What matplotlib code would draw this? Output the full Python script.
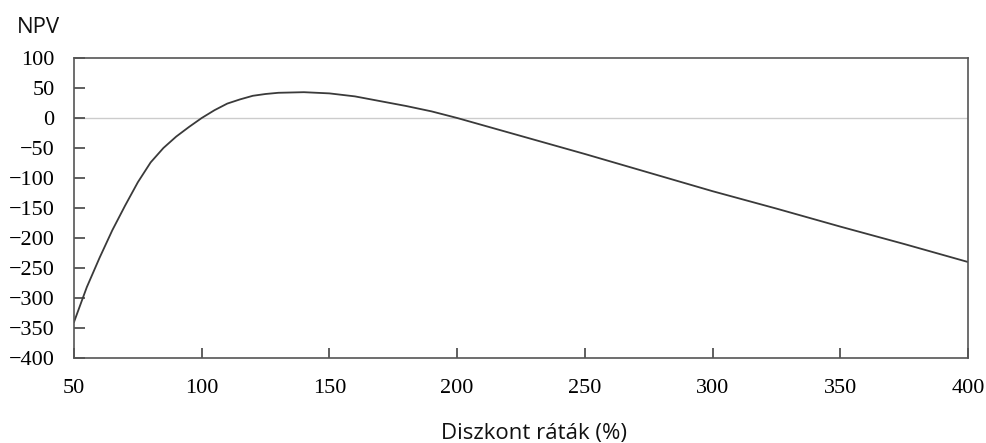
#!/usr/bin/env python3
# -*- coding: utf-8 -*-
import numpy as np
import matplotlib.pyplot as plt

# discount rate (%) and the net present value at that rate
rates = [50, 55, 60, 65, 70, 75, 80, 85, 90, 95, 100, 105, 110, 115, 120,
         125, 130, 140, 150, 160, 170, 180, 190, 200, 225, 250, 275, 300,
         325, 350, 375, 400]
npv = [-340, -282, -233, -187, -146, -107, -74, -50, -31, -15, 0, 13, 24,
       31, 37, 40, 42, 43, 41, 36, 28, 20, 11, 0, -30, -60, -91, -122,
       -151, -181, -210, -240]

xticks = [50, 100, 150, 200, 250, 300, 350, 400]
yticks = [100, 50, 0, -50, -100, -150, -200, -250, -300, -350, -400]

fig = plt.figure(figsize=(9.87, 4.43), dpi=100)
ax = fig.add_axes([0.075, 0.1919, 0.9057, 0.6772])

ax.axhline(0, color='#cccccc', lw=1.0, zorder=1)
ax.plot(rates, npv, color='#3a3a3a', lw=1.3, zorder=2)

ax.set_xlim(50, 400)
ax.set_ylim(-400, 100)
ax.set_xticks(xticks)
ax.set_yticks(yticks)

serif = {'family': 'Liberation Serif', 'size': 16}
ax.set_xticklabels([str(t) for t in xticks], fontdict=serif)
ax.set_yticklabels([str(t).replace('-', '\u2212') for t in yticks], fontdict=serif)

ax.tick_params(axis='x', direction='in', length=7, width=1.2, color='#444444',
               pad=15, top=False)
ax.tick_params(axis='y', direction='in', length=8, width=1.2, color='#444444',
               pad=14, right=False)

for s in ax.spines.values():
    s.set_color('#555555')
    s.set_linewidth(1.2)

fig.text(0.017, 0.938, 'NPV', family='Open Sans', fontsize=16,
         ha='left', va='center', color='#111111')
fig.text(0.5415, 0.022, 'Diszkont ráták (%)', family='Open Sans',
         fontsize=16, ha='center', va='center', color='#111111')

fig.savefig('out.png', dpi=100)
